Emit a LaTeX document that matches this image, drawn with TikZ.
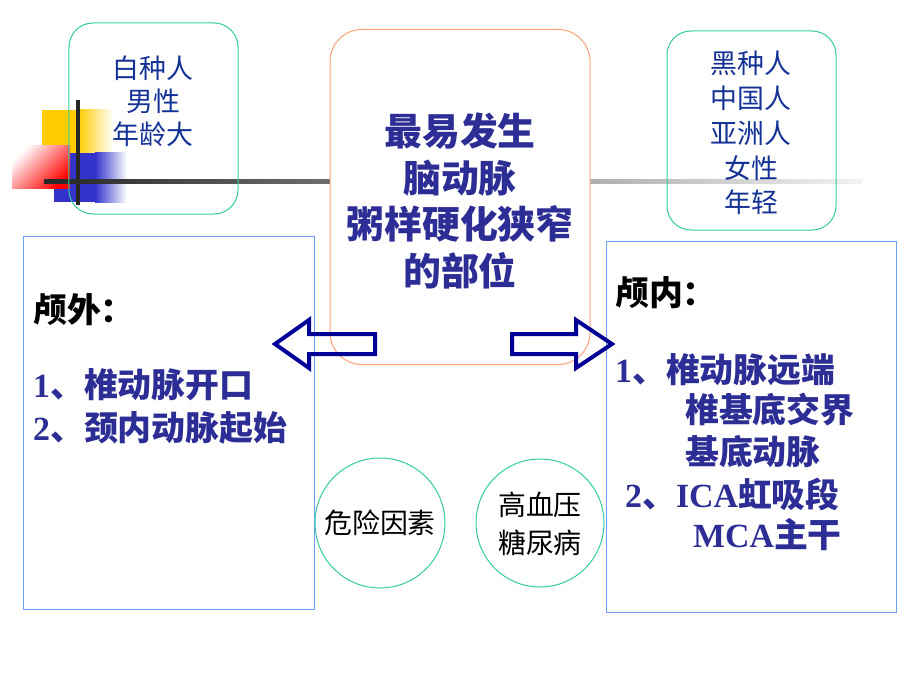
\documentclass[tikz,border=0pt]{standalone}
\usepackage{fontspec}
\setmainfont{Liberation Serif}
\newfontfamily\cjk{Noto Sans CJK SC}
\usetikzlibrary{positioning}
\definecolor{tealline}{RGB}{51,204,160}
\definecolor{salmon}{RGB}{255,160,120}
\definecolor{skyline}{RGB}{110,160,250}
\definecolor{navytext}{RGB}{20,50,150}
\definecolor{boldblue}{RGB}{45,45,150}
\definecolor{arrowblue}{RGB}{0,0,150}
\definecolor{ylw}{RGB}{255,204,0}
\definecolor{rd}{RGB}{255,0,0}
\definecolor{bl}{RGB}{51,51,204}
\begin{document}
\begin{tikzpicture}[x=1bp, y=-1bp,
        roundbox/.style={draw=tealline, line width=1bp, rounded corners=24bp, inner sep=0},
        listbox/.style={draw=skyline, line width=0.8bp, inner sep=0},
        ring/.style={circle, draw=tealline, line width=1bp, inner sep=0, minimum size=130bp},
        lightcjk/.style={text=navytext, align=center, font=\cjk\fontsize{27}{34}\selectfont},
        heading/.style={anchor=west, inner sep=0, text=black, font=\cjk\bfseries\fontsize{34}{40}\selectfont},
        item/.style={anchor=west, inner sep=0, text=boldblue, font=\bfseries\fontsize{34}{40}\selectfont},
        blockarrow/.style={draw=arrowblue, line width=4bp, line join=miter}]

        \useasboundingbox (0,0) rectangle (920,690);

        \fill[ylw] (42,110) rectangle (78,158);
        \shade[left color=ylw, right color=white] (78,110) rectangle (113,158);
        \fill[bl] (54,153) rectangle (95,202);
        \shade[left color=bl, right color=white] (95,153) rectangle (127,202);
        \shade[left color=white, right color=rd, shading angle=45] (12,146) rectangle (70,188);
        \fill[black!85] (76,100) rectangle (80,205);
        \shade[left color=black!85, right color=black!5] (44,179) rectangle (862,183);

        \node[roundbox, fill=white, draw=salmon, rounded corners=32bp, minimum width=260bp, minimum height=335bp] (site) at (460,197) {};
        \node[text=boldblue, align=center, font=\cjk\bfseries\fontsize{38}{47}\selectfont] (sitetext) at (460,201) {最易发生\\脑动脉\\粥样硬化狭窄\\的部位};

        \node[roundbox, minimum width=169bp, minimum height=191bp] (white) at (153.5,118.5) {};
        \node[lightcjk, font=\cjk\fontsize{27}{33}\selectfont] (whitetext) at (153,101) {白种人\\男性\\年龄大};

        \node[roundbox, minimum width=169bp, minimum height=199bp] (black) at (751.5,130.5) {};
        \node[lightcjk, font=\cjk\fontsize{27}{35}\selectfont] (blacktext) at (751,133) {黑种人\\中国人\\亚洲人\\女性\\年轻};

        \node[listbox, minimum width=291bp, minimum height=373bp] (extra) at (168.5,422.5) {};
        \node[heading] (extrahead) at (33,310) {颅外：};
        \node[item] (extra1) at (33,385) {1{\cjk 、椎动脉开口}};
        \node[item] (extra2) at (33,428) {2{\cjk 、颈内动脉起始}};

        \node[listbox, minimum width=290bp, minimum height=371bp] (intra) at (751,426.5) {};
        \node[heading] (intrahead) at (615,293) {颅内：};
        \node[item] (intra1) at (615,370) {1{\cjk 、椎动脉远端}};
        \node[item] (intra2) at (685,410) {\cjk 椎基底交界};
        \node[item] (intra3) at (685,452) {\cjk 基底动脉};
        \node[item] (intra4) at (625,494) {2{\cjk 、}ICA{\cjk 虹吸段}};
        \node[item] (intra5) at (693,535) {MCA{\cjk 主干}};

        \node[ring] (risk) at (380,523) {};
        \node[font=\cjk\fontsize{28}{38}\selectfont] (risktext) at (380,523) {危险因素};
        \node[ring, minimum size=128bp] (disease) at (540,523) {};
        \node[align=center, font=\cjk\fontsize{28}{38}\selectfont] (diseasetext) at (540,524) {高血压\\糖尿病};

        \draw[blockarrow] (275,344) -- (309,320) -- (309,334) -- (375,334) -- (375,354) -- (309,354) -- (309,368) -- cycle;
        \draw[blockarrow] (612,344) -- (576,320) -- (576,334) -- (512,334) -- (512,354) -- (576,354) -- (576,368) -- cycle;
\end{tikzpicture}
\end{document}
